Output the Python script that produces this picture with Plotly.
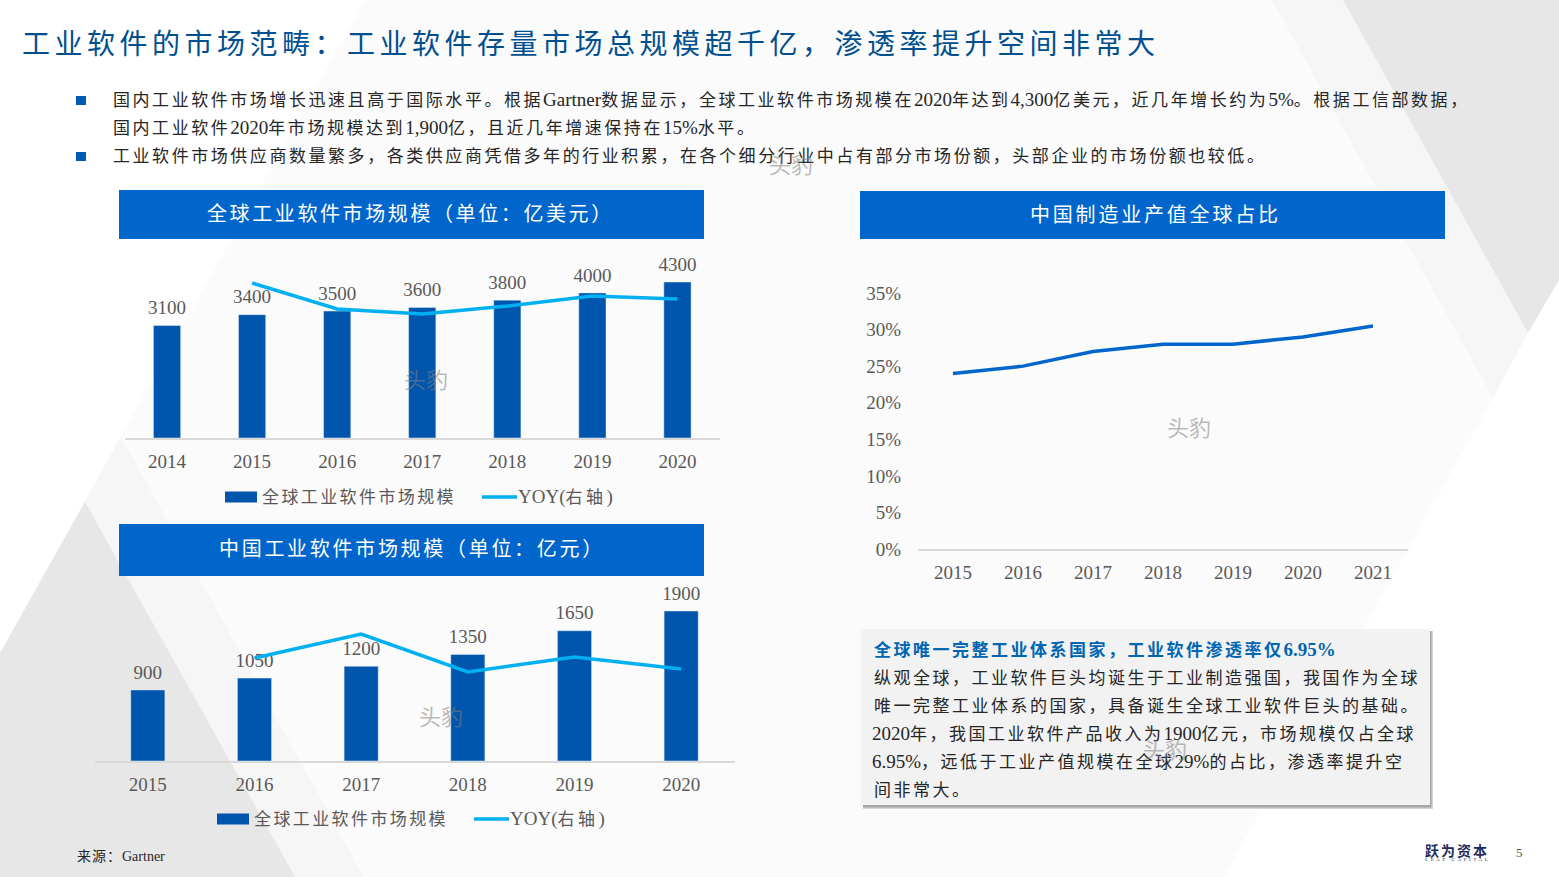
import re

import plotly.graph_objects as go

W, H = 1559, 877
FONT = "Liberation Serif, Noto Sans CJK SC"
BAR_COLOR = "#0056AC"
YOY_COLOR = "#00B0F0"
LINE_COLOR = "#0066CC"
GREY = "#595959"

# global software market
global_years = ["2014", "2015", "2016", "2017", "2018", "2019", "2020"]
global_size = [3100, 3400, 3500, 3600, 3800, 4000, 4300]
global_yoy = [None, 15.5, 12.9, 12.4, 13.2, 14.2, 13.9]

# china software market
china_years = ["2015", "2016", "2017", "2018", "2019", "2020"]
china_size = [900, 1050, 1200, 1350, 1650, 1900]
china_yoy = [None, 10.3, 12.7, 8.9, 10.4, 9.2]

# china share of world manufacturing
share_years = ["2015", "2016", "2017", "2018", "2019", "2020", "2021"]
share_values = [24, 25, 27, 28, 28, 29, 30.5]
share_ticks = [0, 5, 10, 15, 20, 25, 30, 35]
share_tick_labels = ["0%", "5%", "10%", "15%", "20%", "25%", "30%", "35%"]

title_text = "工业软件的市场范畴：工业软件存量市场总规模超千亿，渗透率提升空间非常大"
bullet_lines = [
    "国内工业软件市场增长迅速且高于国际水平。根据Gartner数据显示，全球工业软件市场规模在2020年达到4,300亿美元，近几年增长约为5%。根据工信部数据，",
    "国内工业软件2020年市场规模达到1,900亿，且近几年增速保持在15%水平。",
    "工业软件市场供应商数量繁多，各类供应商凭借多年的行业积累，在各个细分行业中占有部分市场份额，头部企业的市场份额也较低。",
]
box_title = "全球唯一完整工业体系国家，工业软件渗透率仅6.95%"
box_lines = [
    "纵观全球，工业软件巨头均诞生于工业制造强国，我国作为全球",
    "唯一完整工业体系的国家，具备诞生全球工业软件巨头的基础。",
    "2020年，我国工业软件产品收入为1900亿元，市场规模仅占全球",
    "6.95%，远低于工业产值规模在全球29%的占比，渗透率提升空",
    "间非常大。",
]


def px(x):
    return x / W


def py(y):
    return 1 - y / H


def spaced(text, gap, latin):
    # chinese runs get wide tracking, latin runs are set a bit larger and tight
    parts = re.findall(r"[^\x00-\x7f]+|[\x00-\x7f]+", text)
    out = []
    for p in parts:
        if ord(p[0]) > 127:
            out.append('<span style="letter-spacing:%spx">%s</span>' % (gap, p))
        else:
            out.append('<span style="font-size:%spx">%s</span>' % (latin, p))
    return "".join(out)


annotations = []
shapes = []


def label(x, y, text, size, color="#262626", anchor="left", gap=0, bold=False, latin=None):
    t = spaced(text, gap, latin or size) if gap else text
    if bold:
        t = "<b>" + t + "</b>"
    annotations.append(dict(
        x=px(x), y=py(y), xref="paper", yref="paper", text=t, showarrow=False,
        xanchor=anchor, yanchor="middle", align=anchor,
        font=dict(family=FONT, size=size, color=color),
        borderpad=0, borderwidth=0,
    ))


def rect(x0, y0, x1, y1, color, layer="above"):
    shapes.append(dict(
        type="rect", xref="paper", yref="paper", layer=layer,
        x0=px(x0), x1=px(x1), y0=py(y0), y1=py(y1),
        fillcolor=color, line=dict(width=0),
    ))


def polygon(points, color):
    path = "M" + "L".join("%.5f,%.5f" % (px(a), py(b)) for a, b in points) + "Z"
    shapes.append(dict(
        type="path", path=path, xref="paper", yref="paper", layer="below",
        fillcolor=color, line=dict(width=0),
    ))


# background facets
polygon([(365, 0), (1272, 0), (1493, 398), (1224, 877), (364, 877), (121, 436)], "#FBFBFB")
polygon([(1272, 0), (1343, 0), (1528, 333), (1493, 398)], "#F6F6F6")
polygon([(1343, 0), (1559, 0), (1559, 280), (1528, 333)], "#E7E7E7")
polygon([(121, 436), (0, 653), (0, 877), (364, 877)], "#F6F6F6")
polygon([(85, 502), (0, 653), (0, 877), (295, 877)], "#E7E7E7")

# heading and bullets
label(22, 44, title_text, 28, color="#004F8F", gap=4.5)
rect(76, 96, 86, 105, "#0059B3")
rect(76, 152, 86, 161, "#0059B3")
for yy, line in zip([99.5, 127.5, 156.5], bullet_lines):
    label(113, yy, line, 17, gap=2.55, latin=19)

# panel headers
rect(119, 190, 704, 239, "#0066CC")
rect(119, 524, 704, 576, "#0066CC")
rect(860, 191, 1445, 239, "#0066CC")
label(207, 214, "全球工业软件市场规模（单位：亿美元）", 20, color="white", gap=2.6)
label(219, 549, "中国工业软件市场规模（单位：亿元）", 20, color="white", gap=2.7)
label(1030, 215, "中国制造业产值全球占比", 20, color="white", gap=2.8)

# legends, same look for both bar charts
for x0, y0 in [(225, 497), (217, 819)]:
    rect(x0, y0 - 5.5, x0 + 32, y0 + 5.5, BAR_COLOR)
    label(x0 + 37, y0, "全球工业软件市场规模", 17, color=GREY, gap=2.4)
    shapes.append(dict(
        type="line", xref="paper", yref="paper",
        x0=px(x0 + 257), x1=px(x0 + 292), y0=py(y0), y1=py(y0),
        line=dict(color=YOY_COLOR, width=3.5),
    ))
    label(x0 + 293, y0, "YOY(右轴)", 17, color=GREY, gap=3.5, latin=19)

# text box with a soft shadow
rect(863, 631, 1433, 809, "#D4D4D4")
rect(863, 631, 1431.5, 807.5, "#A6A6A6")
rect(861, 629, 1430, 805, "#F2F2F2")
label(874, 649, box_title, 17, color="#0066B3", gap=2.5, bold=True, latin=19)
for yy, line in zip([678, 706, 733, 761, 790], box_lines):
    label(872 if line[0].isdigit() else 874, yy, line, 17, gap=2.5, latin=19)

# footer
label(77, 856, "来源：Gartner", 14, gap=1, latin=14)
label(1425, 851, "跃为资本", 14, color="#1F2D5A", gap=2, bold=True)
label(1425, 859.5, '<span style="letter-spacing:2.6px">LEAP CAPITAL</span>', 5, color="#1F2D5A")
label(1519, 852, "5", 13, color=GREY, anchor="center")

# watermarks
for wx, wy in [(426, 381), (791, 165), (1189, 428), (441, 717), (1165, 750)]:
    label(wx, wy, "头豹", 22, color="rgba(128,128,128,0.55)", anchor="center")

fig = go.Figure()


def bar_pair(years, size, yoy, xa, ya, ya2):
    fig.add_trace(go.Bar(
        x=years, y=size, xaxis=xa, yaxis=ya, marker_color=BAR_COLOR,
        name="全球工业软件市场规模",
    ))
    fig.add_trace(go.Scatter(
        x=years, y=yoy, xaxis=xa, yaxis=ya2, mode="lines",
        line=dict(color=YOY_COLOR, width=3.5), name="YOY(右轴)",
    ))
    # value labels sit a little higher than bar text allows, so a clear marker carries them
    fig.add_trace(go.Scatter(
        x=years, y=size, xaxis=xa, yaxis=ya, mode="markers+text",
        marker=dict(size=9, opacity=0), text=size, textposition="top center",
        cliponaxis=False, textfont=dict(family=FONT, size=19, color=GREY),
        hoverinfo="skip",
    ))


bar_pair(global_years, global_size, global_yoy, "x", "y", "y2")
bar_pair(china_years, china_size, china_yoy, "x2", "y3", "y4")
fig.add_trace(go.Scatter(
    x=share_years, y=share_values, xaxis="x3", yaxis="y5", mode="lines",
    line=dict(color=LINE_COLOR, width=3.5), name="中国制造业产值全球占比",
))

x_style = dict(
    type="category", showgrid=False, zeroline=False, showline=True,
    linecolor="#D9D9D9", linewidth=1.5, ticks="outside", ticklen=5,
    tickcolor="rgba(0,0,0,0)", tickfont=dict(family=FONT, size=19, color=GREY),
)
hidden = dict(visible=False, showgrid=False, zeroline=False)

fig.update_layout(
    width=W, height=H, margin=dict(l=0, r=0, t=0, b=0, autoexpand=False),
    paper_bgcolor="white", plot_bgcolor="rgba(0,0,0,0)",
    showlegend=False, bargap=0.68,
    shapes=shapes, annotations=annotations,
    xaxis=dict(domain=[px(124.5), px(720)], anchor="y", range=[-0.5, 6.5], **x_style),
    yaxis=dict(domain=[py(438), py(250)], range=[0, 5182], **hidden),
    yaxis2=dict(domain=[py(438), py(250)], range=[0, 18.8], overlaying="y", anchor="x", **hidden),
    xaxis2=dict(domain=[px(94.5), px(734.5)], anchor="y3", range=[-0.5, 5.5], **x_style),
    yaxis3=dict(domain=[py(761), py(590)], range=[0, 2166], anchor="x2", **hidden),
    yaxis4=dict(domain=[py(761), py(590)], range=[0, 17.1], overlaying="y3", anchor="x2", **hidden),
    xaxis3=dict(domain=[px(918), px(1408)], anchor="y5", range=[-0.5, 6.5], **x_style),
    yaxis5=dict(
        domain=[py(549), py(293)], range=[0, 35], anchor="x3",
        tickvals=share_ticks, ticktext=share_tick_labels,
        showgrid=False, zeroline=False, showline=False,
        ticks="outside", ticklen=12, tickcolor="rgba(0,0,0,0)",
        tickfont=dict(family=FONT, size=19, color=GREY),
    ),
)

# page margin would push the whole slide off its grid
fig.write_html(
    "out.html",
    config={"displayModeBar": False},
    post_script="document.body.style.margin='0';document.body.style.overflow='hidden';",
)
